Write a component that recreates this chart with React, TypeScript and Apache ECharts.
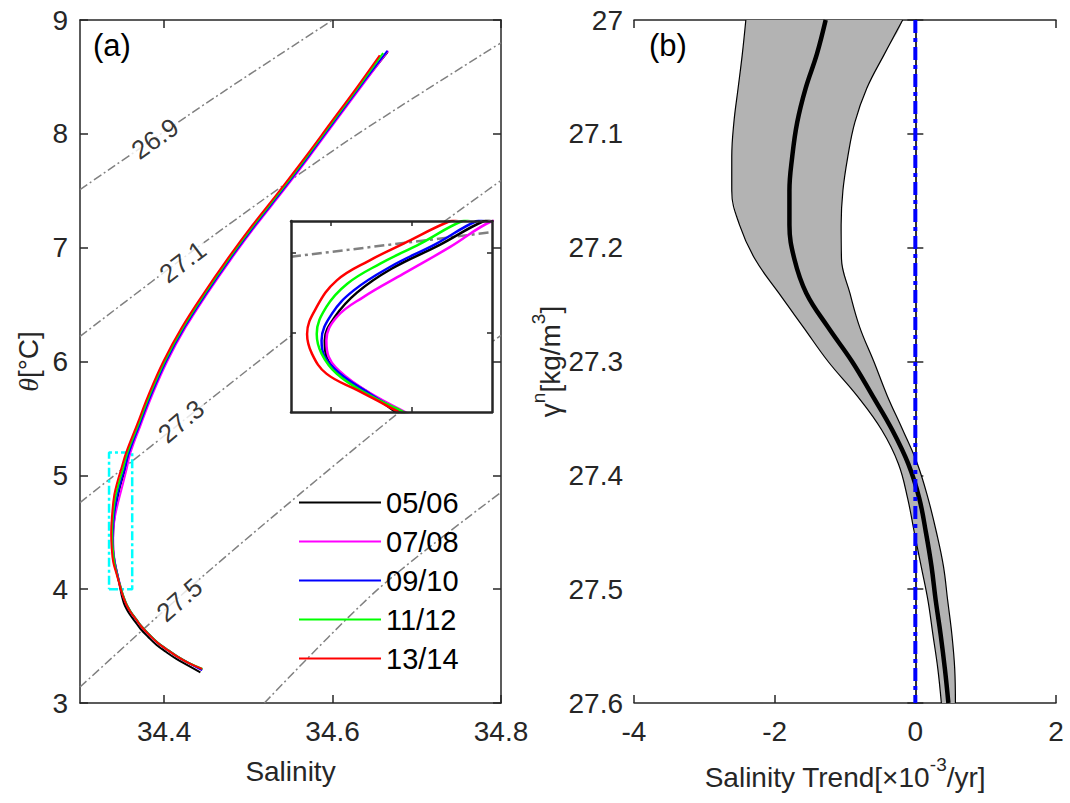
import React, { useEffect, useRef } from "react";
import * as echarts from "echarts";

const FONT = "Liberation Sans";
const AX = "#262626";

// ---------- panel (a) data: theta-S curves [salinity, theta] ----------
const seriesNames = ["05/06", "07/08", "09/10", "11/12", "13/14"];
const seriesColors = ["#000000", "#ff00ff", "#0000ff", "#00ff00", "#ff0000"];

const ts0506 = [[34.6655,8.72],[34.6315,8.40],[34.6015,8.10],[34.5715,7.80],[34.5405,7.50],[34.5085,7.20],[34.4785,6.90],[34.4505,6.60],[34.4245,6.30],[34.4025,6.00],[34.3845,5.70],[34.3715,5.45],[34.359,5.20],[34.3535,5.05],[34.3475,4.90],[34.3432,4.75],[34.3405,4.60],[34.3392,4.45],[34.3394,4.35],[34.3412,4.24],[34.345,4.11],[34.348,4.0],[34.3497,3.94],[34.352,3.88],[34.355,3.83],[34.359,3.78],[34.365,3.72],[34.372,3.65],[34.381,3.58],[34.391,3.51],[34.402,3.45],[34.414,3.39],[34.427,3.335],[34.443,3.27]];
const ts0708 = [[34.666,8.73],[34.6325,8.40],[34.6025,8.10],[34.5725,7.80],[34.5415,7.50],[34.5095,7.20],[34.4795,6.90],[34.4515,6.60],[34.4255,6.30],[34.4035,6.00],[34.3855,5.70],[34.3725,5.45],[34.360,5.20],[34.3548,5.037],[34.349,4.869],[34.344,4.722],[34.3407,4.597],[34.3394,4.45],[34.3397,4.346],[34.3419,4.22],[34.3457,4.094],[34.3492,4.0],[34.351,3.95],[34.3535,3.90],[34.3565,3.85],[34.3605,3.80],[34.3665,3.74],[34.3735,3.67],[34.3825,3.60],[34.3925,3.53],[34.4035,3.47],[34.4155,3.41],[34.4285,3.355],[34.445,3.29]];
const ts0910 = [[34.665,8.73],[34.631,8.40],[34.601,8.10],[34.571,7.80],[34.540,7.50],[34.508,7.20],[34.478,6.90],[34.450,6.60],[34.424,6.30],[34.402,6.00],[34.384,5.70],[34.371,5.45],[34.3581,5.20],[34.3531,5.058],[34.3473,4.911],[34.3428,4.764],[34.3401,4.618],[34.3388,4.45],[34.3392,4.346],[34.3411,4.24],[34.3448,4.115],[34.3486,4.0],[34.3507,3.95],[34.3532,3.90],[34.3562,3.85],[34.3602,3.80],[34.3662,3.74],[34.3732,3.67],[34.3822,3.60],[34.3922,3.53],[34.4032,3.47],[34.4152,3.41],[34.4282,3.355],[34.4452,3.29]];
const ts1112 = [[34.660,8.71],[34.6295,8.40],[34.5995,8.10],[34.5695,7.80],[34.5385,7.50],[34.5065,7.20],[34.4765,6.90],[34.4485,6.60],[34.4225,6.30],[34.4005,6.00],[34.3825,5.70],[34.3695,5.45],[34.3563,5.20],[34.3511,5.058],[34.3461,4.932],[34.342,4.806],[34.3394,4.66],[34.3382,4.49],[34.3388,4.367],[34.3407,4.24],[34.3444,4.115],[34.349,4.0],[34.351,3.95],[34.3535,3.90],[34.3565,3.85],[34.3605,3.80],[34.3665,3.74],[34.3735,3.67],[34.3825,3.60],[34.3925,3.53],[34.4035,3.47],[34.4155,3.41],[34.4285,3.355],[34.4455,3.30]];
const ts1314 = [[34.656,8.69],[34.628,8.40],[34.598,8.10],[34.568,7.80],[34.537,7.50],[34.505,7.20],[34.475,6.90],[34.447,6.60],[34.421,6.30],[34.399,6.00],[34.381,5.70],[34.368,5.45],[34.3548,5.20],[34.349,5.058],[34.3448,4.953],[34.3407,4.827],[34.3382,4.66],[34.337,4.49],[34.3376,4.367],[34.3394,4.241],[34.3433,4.136],[34.3457,4.073],[34.3484,4.0],[34.3505,3.95],[34.353,3.90],[34.356,3.85],[34.360,3.80],[34.366,3.74],[34.373,3.67],[34.382,3.60],[34.392,3.53],[34.403,3.47],[34.415,3.41],[34.428,3.355],[34.445,3.30]];
const tsData = [ts0506, ts0708, ts0910, ts1112, ts1314];

// isopycnals (gamma^n contours) in panel (a)
const iso269 = [[34.3,7.51],[34.45,8.27],[34.6,9.0]];
const iso271 = [[34.3,6.22],[34.45,7.06],[34.62,7.95],[34.8,8.80]];
const iso273 = [[34.3,4.76],[34.45,5.64],[34.62,6.62],[34.8,7.59]];
const iso275 = [[34.3,3.14],[34.45,4.14],[34.68,5.56],[34.8,6.23]];
const iso277 = [[34.519,3.0],[34.654,4.0],[34.8,4.85]];
const isoInset = [[34.335,4.975],[34.36,5.13]];
const isoLabels = [
  { name: "26.9", value: [34.389, 7.957], angle: 35 },
  { name: "27.1", value: [34.422, 6.876], angle: 37 },
  { name: "27.3", value: [34.42, 5.475], angle: 40 },
  { name: "27.5", value: [34.418, 3.906], angle: 41 },
];
// zoom box (cyan)
const zoomBox = [[34.3345,4.0],[34.362,4.0],[34.362,5.2],[34.3345,5.2],[34.3345,4.0]];

// ---------- panel (b) data ----------
const gammaLevels = [27.0,27.03,27.06,27.09,27.12,27.15,27.18,27.21,27.24,27.27,27.30,27.33,27.36,27.39,27.42,27.45,27.48,27.51,27.54,27.57,27.60];
const trendMean = [-1.275,-1.40,-1.56,-1.68,-1.75,-1.79,-1.79,-1.72,-1.55,-1.24,-0.90,-0.61,-0.33,-0.10,0.055,0.15,0.23,0.29,0.36,0.42,0.47];
const trendUpper = [-0.18,-0.44,-0.69,-0.86,-0.96,-1.03,-1.055,-1.05,-0.93,-0.79,-0.59,-0.40,-0.18,0.03,0.18,0.30,0.40,0.46,0.52,0.56,0.57];
const trendLower = [-2.41,-2.46,-2.52,-2.58,-2.61,-2.61,-2.50,-2.28,-1.94,-1.59,-1.24,-0.83,-0.48,-0.24,-0.11,-0.015,0.083,0.18,0.25,0.32,0.37];

const tickFont = { fontFamily: FONT, fontSize: 28, color: AX };

function valueAxis(extra: any) {
  return {
    type: "value",
    axisLine: { show: true, lineStyle: { color: AX, width: 1.5 } },
    axisTick: { show: true, inside: true, length: 8, lineStyle: { color: AX, width: 1.5 } },
    splitLine: { show: false },
    axisLabel: { show: false },
    ...extra,
  };
}

export default function App() {
  const ref = useRef<HTMLDivElement>(null);
  useEffect(() => {
    if (!ref.current) return;
    const chart = echarts.init(ref.current, null, { renderer: "svg" });

    const upperPts = gammaLevels.map((g, i) => [trendUpper[i], g]);
    const lowerPts = gammaLevels.map((g, i) => [trendLower[i], g]);
    const meanPts = gammaLevels.map((g, i) => [trendMean[i], g]);
    const last = gammaLevels.length - 1;
    const bandPts = [
      [trendUpper[0], gammaLevels[0] - 0.03],
      ...upperPts,
      [trendUpper[last], gammaLevels[last] + 0.03],
      [trendLower[last], gammaLevels[last] + 0.03],
      ...lowerPts.slice().reverse(),
      [trendLower[0], gammaLevels[0] - 0.03],
    ];

    const isoStyle = { color: "#808080", width: 1.5, type: [9, 3, 2, 3] };
    const isoSeries = [iso269, iso271, iso273, iso275, iso277].map((d) => ({
      type: "line", xAxisIndex: 0, yAxisIndex: 0, data: d, symbol: "none",
      smooth: 0.3, lineStyle: isoStyle, z: 1, silent: true,
    }));

    const tsMain = tsData.map((d, i) => ({
      name: seriesNames[i], type: "line", xAxisIndex: 0, yAxisIndex: 0, data: d,
      symbol: "none", smooth: 0.4, lineStyle: { color: seriesColors[i], width: 2 },
      itemStyle: { color: seriesColors[i] }, z: 4,
    }));
    const tsInset = tsData.map((d, i) => ({
      type: "line", xAxisIndex: 2, yAxisIndex: 2, data: d, symbol: "none",
      smooth: 0.4, lineStyle: { color: seriesColors[i], width: 2.5 }, z: 12, clip: true,
    }));

    const option: any = {
      animation: false,
      backgroundColor: "#ffffff",
      textStyle: { fontFamily: FONT },
      grid: [
        { left: 80, top: 20, width: 421, height: 683 },
        { left: 291, top: 221, width: 201, height: 191, z: 10 },
        { left: 634, top: 20, width: 422, height: 683 },
      ],
      legend: {
        data: seriesNames, orient: "vertical", left: 294, top: 482,
        icon: "rect", itemWidth: 82, itemHeight: 2, itemGap: 8,
        textStyle: { fontFamily: FONT, fontSize: 29, color: "#000", lineHeight: 31 },
        selectedMode: false,
      },
      xAxis: [
        valueAxis({ gridIndex: 0, min: 34.3, max: 34.8, position: "bottom",
          axisTick: { show: true, inside: true, length: 8, customValues: [34.4, 34.6, 34.8], lineStyle: { color: AX, width: 1.5 } },
          axisLabel: { show: true, ...tickFont, margin: 14, customValues: [34.4, 34.6, 34.8] },
          name: "Salinity", nameLocation: "middle", nameGap: 54,
          nameTextStyle: { fontFamily: FONT, fontSize: 28, color: AX } }),
        valueAxis({ gridIndex: 0, min: 34.3, max: 34.8, position: "top",
          axisTick: { show: true, inside: true, length: 8, customValues: [34.4, 34.6, 34.8], lineStyle: { color: AX, width: 1.5 } } }),
        valueAxis({ gridIndex: 1, min: 34.335, max: 34.36, position: "bottom", z: 13,
          axisLine: { show: true, lineStyle: { color: AX, width: 2.5 } },
          axisTick: { show: true, inside: true, length: 5, customValues: [34.34, 34.35], lineStyle: { color: AX, width: 1.5 } } }),
        valueAxis({ gridIndex: 1, min: 34.335, max: 34.36, position: "top", z: 13,
          axisLine: { show: true, lineStyle: { color: AX, width: 2.5 } },
          axisTick: { show: true, inside: true, length: 5, customValues: [34.34, 34.35], lineStyle: { color: AX, width: 1.5 } } }),
        valueAxis({ gridIndex: 2, min: -4, max: 2, interval: 2, position: "bottom",
          axisLabel: { show: true, ...tickFont, margin: 14 },
          name: "{a|Salinity Trend[×10}{s|-3}{a|/yr]}", nameLocation: "middle", nameGap: 52,
          nameTextStyle: { rich: {
            a: { fontFamily: FONT, fontSize: 28, color: AX, lineHeight: 36, verticalAlign: "bottom" },
            s: { fontFamily: FONT, fontSize: 19, color: AX, lineHeight: 19, verticalAlign: "top" } } } }),
        valueAxis({ gridIndex: 2, min: -4, max: 2, interval: 2, position: "top" }),
      ],
      yAxis: [
        valueAxis({ gridIndex: 0, min: 3, max: 9, interval: 1, position: "left",
          axisLabel: { show: true, ...tickFont, margin: 12 },
          name: "{i|θ}{a|[°C]}", nameLocation: "middle", nameGap: 38, nameRotate: 90,
          nameTextStyle: { rich: {
            i: { fontFamily: "Liberation Serif", fontStyle: "italic", fontSize: 28, color: AX },
            a: { fontFamily: FONT, fontSize: 28, color: AX } } } }),
        valueAxis({ gridIndex: 0, min: 3, max: 9, interval: 1, position: "right" }),
        valueAxis({ gridIndex: 1, min: 4, max: 5.2, interval: 0.5, position: "left", z: 13,
          axisLine: { show: true, lineStyle: { color: AX, width: 2.5 } },
          axisTick: { show: true, inside: true, length: 5, customValues: [4.5, 5.0], lineStyle: { color: AX, width: 1.5 } } }),
        valueAxis({ gridIndex: 1, min: 4, max: 5.2, interval: 0.5, position: "right", z: 13,
          axisLine: { show: true, lineStyle: { color: AX, width: 2.5 } },
          axisTick: { show: true, inside: true, length: 5, customValues: [4.5, 5.0], lineStyle: { color: AX, width: 1.5 } } }),
        valueAxis({ gridIndex: 2, min: 27, max: 27.6, interval: 0.1, inverse: true, position: "left",
          axisLabel: { show: true, ...tickFont, margin: 11 },
          name: "{a|γ}{s|n}{a|[kg/m}{s|3}{a|]}", nameLocation: "middle", nameGap: 36, nameRotate: 90,
          nameTextStyle: { rich: {
            a: { fontFamily: FONT, fontSize: 28, color: AX, lineHeight: 36, verticalAlign: "bottom" },
            s: { fontFamily: FONT, fontSize: 19, color: AX, lineHeight: 19, verticalAlign: "top" } } } }),
        valueAxis({ gridIndex: 2, min: 27, max: 27.6, interval: 0.1, inverse: true, position: "right" }),
      ],
      graphic: [
        { type: "text", left: 93, top: 30, style: { text: "(a)", font: `31px ${FONT}`, fill: "#000" }, z: 20 },
        { type: "text", left: 649, top: 30, style: { text: "(b)", font: `31px ${FONT}`, fill: "#000" }, z: 20 },
      ],
      series: [
        ...isoSeries,
        {
          type: "scatter", xAxisIndex: 0, yAxisIndex: 0, symbolSize: 1, z: 3, silent: true,
          itemStyle: { color: "rgba(0,0,0,0)" },
          data: isoLabels.map((l) => ({ name: l.name, value: l.value,
            label: { rotate: l.angle } })),
          label: { show: true, position: "inside", formatter: (p: any) => p.name,
            fontFamily: FONT, fontSize: 26, color: "#000000", backgroundColor: "#ffffff", padding: [0, 3] },
        },
        { type: "line", xAxisIndex: 0, yAxisIndex: 0, data: zoomBox, symbol: "none", z: 2,
          lineStyle: { color: "#00ffff", width: 2.5, type: [9, 3, 3, 3] } },
        ...tsMain,
        // inset
        {
          type: "custom", xAxisIndex: 2, yAxisIndex: 2, data: [[34.345, 4.5]], z: 10, clip: false, silent: true,
          renderItem: (params: any) => {
            const cs = params.coordSys;
            return { type: "rect", shape: { x: cs.x, y: cs.y, width: cs.width, height: cs.height }, style: { fill: "#ffffff" } };
          },
        },
        { type: "line", xAxisIndex: 2, yAxisIndex: 2, data: isoInset, symbol: "none", z: 11,
          lineStyle: { color: "#808080", width: 2.5, type: [10, 4, 3, 4] } },
        ...tsInset,
        // panel b
        {
          type: "custom", xAxisIndex: 4, yAxisIndex: 4, data: [[0, 27.3]], z: 2, clip: true, silent: true,
          renderItem: (params: any, api: any) => {
            const pts = bandPts.map((p) => api.coord(p));
            return { type: "polygon", shape: { points: pts, smooth: 0.3 }, style: { fill: "#b3b3b3", stroke: "none" } };
          },
        },
        { type: "line", xAxisIndex: 4, yAxisIndex: 4, data: upperPts, symbol: "none", smooth: 0.4, z: 3,
          lineStyle: { color: "#000", width: 1.2 } },
        { type: "line", xAxisIndex: 4, yAxisIndex: 4, data: lowerPts, symbol: "none", smooth: 0.4, z: 3,
          lineStyle: { color: "#000", width: 1.2 } },
        { type: "line", xAxisIndex: 4, yAxisIndex: 4, data: meanPts, symbol: "none", smooth: 0.4, z: 4,
          lineStyle: { color: "#000", width: 4.5 } },
        { type: "line", xAxisIndex: 4, yAxisIndex: 4, data: [[0, 27], [0, 27.6]], symbol: "none", z: 5,
          lineStyle: { color: "#0000ff", width: 4, type: [13, 5, 4, 5] } },
      ],
    };
    chart.setOption(option);
    return () => chart.dispose();
  }, []);
  return (
    <div
      ref={ref}
      style={{ position: "absolute", left: 0, top: 0, width: 1070, height: 803, background: "#fff" }}
    />
  );
}
